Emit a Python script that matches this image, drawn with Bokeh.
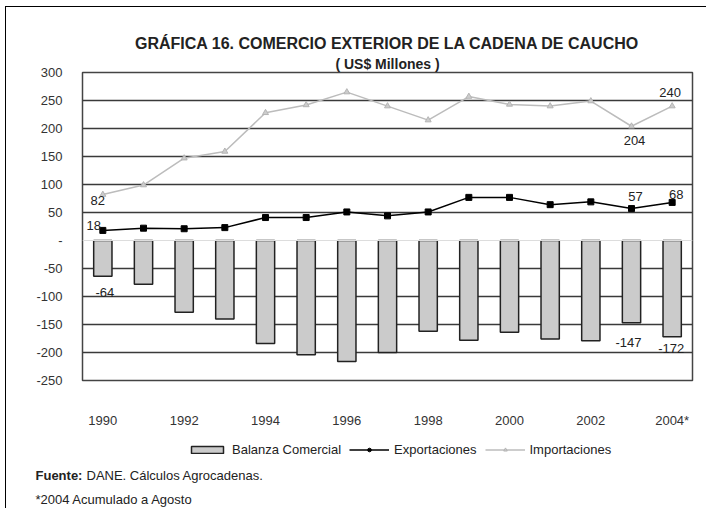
from bokeh.plotting import figure
from bokeh.models import (Range1d, FixedTicker, Legend, LegendItem, Span,
                          ColumnDataSource, Title)
from bokeh.layouts import column
from bokeh.embed import file_html
from bokeh.resources import INLINE
from bokeh.core.properties import value

# ---------------- data ----------------
years = [1990, 1991, 1992, 1993, 1994, 1995, 1996, 1997, 1998, 1999,
         2000, 2001, 2002, 2003, 2004]
tick_years = [1990, 1992, 1994, 1996, 1998, 2000, 2002, 2004]
tick_labels = ["1990", "1992", "1994", "1996", "1998", "2000", "2002", "2004*"]
balanza = [-64, -78, -128, -140, -184, -204, -216, -200, -162, -178,
           -164, -176, -179, -147, -172]
exportaciones = [18, 22, 21, 23, 41, 41, 51, 44, 51, 77, 77, 64, 69, 57, 68]
importaciones = [82, 99, 147, 159, 228, 242, 265, 240, 215, 257, 243, 240, 249, 204, 240]
y_ticks = [-250, -200, -150, -100, -50, 0, 50, 100, 150, 200, 250, 300]
y_tick_labels = ["-250", "-200", "-150", "-100", "-50", "-", "50", "100", "150",
                 "200", "250", "300"]

# which points carry a data label
imp_label_idx = [0, 13, 14]
exp_label_idx = [0, 13, 14]
bal_label_idx = [0, 13, 14]

FONT = "Liberation Sans"
TXT = "#222222"
BAR_FILL, BAR_LINE = "#cbcbcb", "#222222"
IMP_LINE, IMP_FILL = "#bcbcbc", "#cccccc"

p = figure(width=700, height=423, output_backend="svg", toolbar_location=None,
           x_range=Range1d(1989.5, 2004.5), y_range=Range1d(-250, 300),
           min_border_left=76, min_border_right=14, min_border_top=65,
           min_border_bottom=41,
           title="GRÁFICA 16. COMERCIO EXTERIOR DE LA CADENA DE CAUCHO")
p.frame_align = False
p.background_fill_color = "white"
p.border_fill_color = "white"
p.outline_line_color = "#444444"
p.outline_line_width = 1.5

# titles
p.title.align = "center"
p.title.text_font = FONT
p.title.text_font_size = "16px"
p.title.text_font_style = "bold"
p.title.text_color = TXT
p.title.standoff = 2
p.add_layout(Title(text="( US$ Millones )", align="center", text_font=FONT,
                   text_font_size="14px", text_font_style="bold", text_color=TXT,
                   standoff=2), "above")

# grid
p.xgrid.visible = False
p.ygrid.ticker = FixedTicker(ticks=[t for t in y_ticks if t != 0])
p.ygrid.grid_line_color = "#3a3a3a"
p.ygrid.grid_line_width = 1.5
p.add_layout(Span(location=0, dimension="width", line_color="#dddddd", line_width=1))

# axes
p.yaxis.ticker = FixedTicker(ticks=y_ticks)
p.yaxis.major_label_overrides = {t: l for t, l in zip(y_ticks, y_tick_labels)}
p.yaxis.axis_line_color = None
p.yaxis.major_tick_line_color = None
p.yaxis.minor_tick_line_color = None
p.yaxis.major_label_standoff = 14
p.yaxis.major_label_text_font = FONT
p.yaxis.major_label_text_font_size = "13px"
p.yaxis.major_label_text_color = "#333333"

p.xaxis.ticker = FixedTicker(ticks=tick_years)
p.xaxis.major_label_overrides = {y: l for y, l in zip(tick_years, tick_labels)}
p.xaxis.axis_line_color = None
p.xaxis.major_tick_line_color = None
p.xaxis.minor_tick_line_color = None
p.xaxis.major_label_standoff = 26
p.xaxis.major_label_text_font = FONT
p.xaxis.major_label_text_font_size = "13px"
p.xaxis.major_label_text_color = "#333333"

# bars
src = ColumnDataSource(dict(x=years, bal=balanza, exp=exportaciones, imp=importaciones))
p.vbar(x="x", top=0, bottom="bal", width=0.45, source=src,
       fill_color=BAR_FILL, line_color=BAR_LINE, line_width=1.5)

# lines
p.line("x", "exp", source=src, line_color="black", line_width=1.5)
p.scatter("x", "exp", source=src, marker="square", size=6,
          fill_color="black", line_color="black")
p.line("x", "imp", source=src, line_color=IMP_LINE, line_width=1.5)
p.scatter("x", "imp", source=src, marker="triangle", size=6,
          fill_color=IMP_FILL, line_color="#b4b4b4")

# data labels
lx, ly, lt, dx, dy = [], [], [], [], []
imp_off = {0: (-5, 6), 13: (3, 14), 14: (-2, -14)}
exp_off = {0: (-9, -5), 13: (4, -12), 14: (4, -8)}
bal_off = {0: (2, 16), 13: (-3, 20), 14: (-1, 12)}
for i in imp_label_idx:
    lx.append(years[i]); ly.append(importaciones[i]); lt.append(str(importaciones[i]))
    dx.append(imp_off[i][0]); dy.append(imp_off[i][1])
for i in exp_label_idx:
    lx.append(years[i]); ly.append(exportaciones[i]); lt.append(str(exportaciones[i]))
    dx.append(exp_off[i][0]); dy.append(exp_off[i][1])
for i in bal_label_idx:
    lx.append(years[i]); ly.append(balanza[i]); lt.append(str(balanza[i]))
    dx.append(bal_off[i][0]); dy.append(bal_off[i][1])
lsrc = ColumnDataSource(dict(x=lx, y=ly, t=lt, dx=dx, dy=dy))
p.text(x="x", y="y", text="t", x_offset="dx", y_offset="dy", source=lsrc,
       text_font=value(FONT), text_font_size="13px", text_color=TXT,
       text_align="center", text_baseline="middle")

# ---------------- footer: legend + source notes ----------------
FW, FH = 700, 78
f = figure(width=FW, height=FH, output_backend="svg", toolbar_location=None,
           x_range=Range1d(0, FW), y_range=Range1d(0, FH),
           min_border=0, min_border_left=0, min_border_right=0,
           min_border_top=0, min_border_bottom=0,
           x_axis_type=None, y_axis_type=None)
f.frame_align = False
f.outline_line_color = None
f.xgrid.visible = False
f.ygrid.visible = False
f.border_fill_color = "white"
f.background_fill_color = "white"

# legend keys: same series (their years lie outside this strip's x range, so
# only the legend keys are visible here)
lg_bar = f.vbar(x="x", top=0, bottom="bal", width=0.45, source=src,
                fill_color=BAR_FILL, line_color=BAR_LINE, line_width=1.5)
lg_exp_l = f.line("x", "exp", source=src, line_color="black", line_width=1.5)
lg_exp_p = f.scatter("x", "exp", source=src, marker="circle", size=6,
                     fill_color="black", line_color="black")
lg_imp_l = f.line("x", "imp", source=src, line_color=IMP_LINE, line_width=1.5)
lg_imp_p = f.scatter("x", "imp", source=src, marker="triangle", size=6,
                     fill_color=IMP_FILL, line_color="#b4b4b4")
legend = Legend(items=[
    LegendItem(label="Balanza Comercial", renderers=[lg_bar]),
    LegendItem(label="Exportaciones", renderers=[lg_exp_l, lg_exp_p]),
    LegendItem(label="Importaciones", renderers=[lg_imp_l, lg_imp_p]),
], location=(181, 51), orientation="horizontal", glyph_width=40, glyph_height=9,
    label_height=12, label_standoff=5, spacing=8, padding=0, margin=0,
    border_line_alpha=0, background_fill_alpha=0,
    label_text_font=FONT, label_text_font_size="13px", label_text_color=TXT)
f.add_layout(legend, "center")

f.text(x=[29], y=[33], text=["Fuente:"], text_font=value(FONT), text_font_size="13px",
       text_font_style="bold", text_color=TXT, text_align="left", text_baseline="middle")
f.text(x=[80], y=[33], text=["DANE. Cálculos Agrocadenas."], text_font=value(FONT),
       text_font_size="13px", text_color=TXT, text_align="left", text_baseline="middle")
f.text(x=[29], y=[9], text=["*2004 Acumulado a Agosto"], text_font=value(FONT),
       text_font_size="13px", text_color=TXT, text_align="left", text_baseline="middle")

layout = column(p, f, spacing=0,
                styles={"border-left": "1px solid #000000",
                        "border-top": "1px solid #000000",
                        "margin-left": "5px", "margin-top": "6px"})
open("out.html", "w").write(file_html(layout, INLINE))
